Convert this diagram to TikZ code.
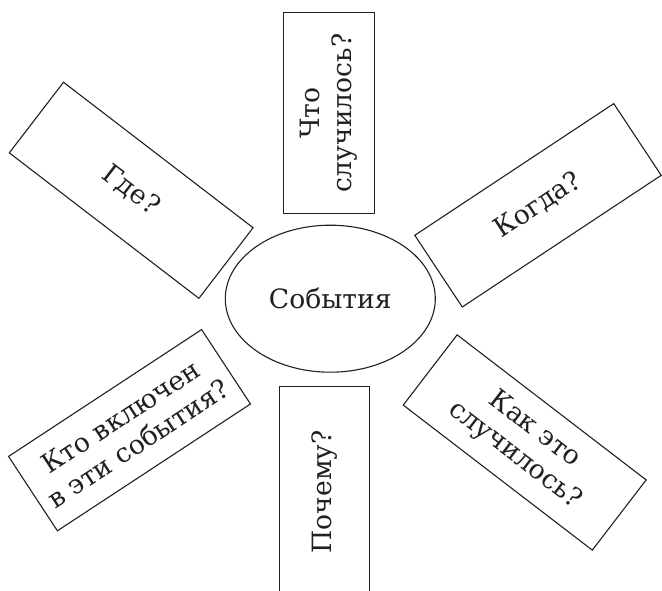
\documentclass[tikz,border=0pt]{standalone}
\usepackage{fontspec}
\setmainfont{DejaVu Serif}
\usetikzlibrary{shapes.geometric}
\definecolor{ink}{HTML}{231F20}
\begin{document}
\begin{tikzpicture}[x=1pt,y=-1pt,
  box/.style={draw=ink, line width=1.1pt, inner sep=0pt, align=center,
    text=ink, font=\fontsize{26.6}{32}\selectfont}]
\useasboundingbox (0,0) rectangle (662,591);
\clip (0,0) rectangle (662,591);
\node[box, ellipse, minimum width=210pt, minimum height=147pt] (ev) at (330.3,298.7) {События};
\node[box, minimum width=239pt, minimum height=89pt, rotate=-37.5] (gde) at (131.2,190.3) {Где?};
\node[box, minimum width=201pt, minimum height=90.7pt, rotate=90] (chto) at (328.7,113.3) {Что\\случилось?};
\node[box, minimum width=238.6pt, minimum height=86pt, rotate=33.5] (kogda) at (538,205.3) {Когда?};
\node[box, minimum width=231pt, minimum height=89pt, rotate=33.3] (kto) at (129.5,430.2) {Кто включен\\в эти события?};
\node[box, minimum width=238.3pt, minimum height=88.5pt, rotate=-37.5] (kak) at (524.7,442.5) {Как это\\случилось?};
\node[box, minimum width=210pt, minimum height=90.3pt, rotate=90] (pochemu) at (324.2,491.7) {Почему?};
\end{tikzpicture}
\end{document}
